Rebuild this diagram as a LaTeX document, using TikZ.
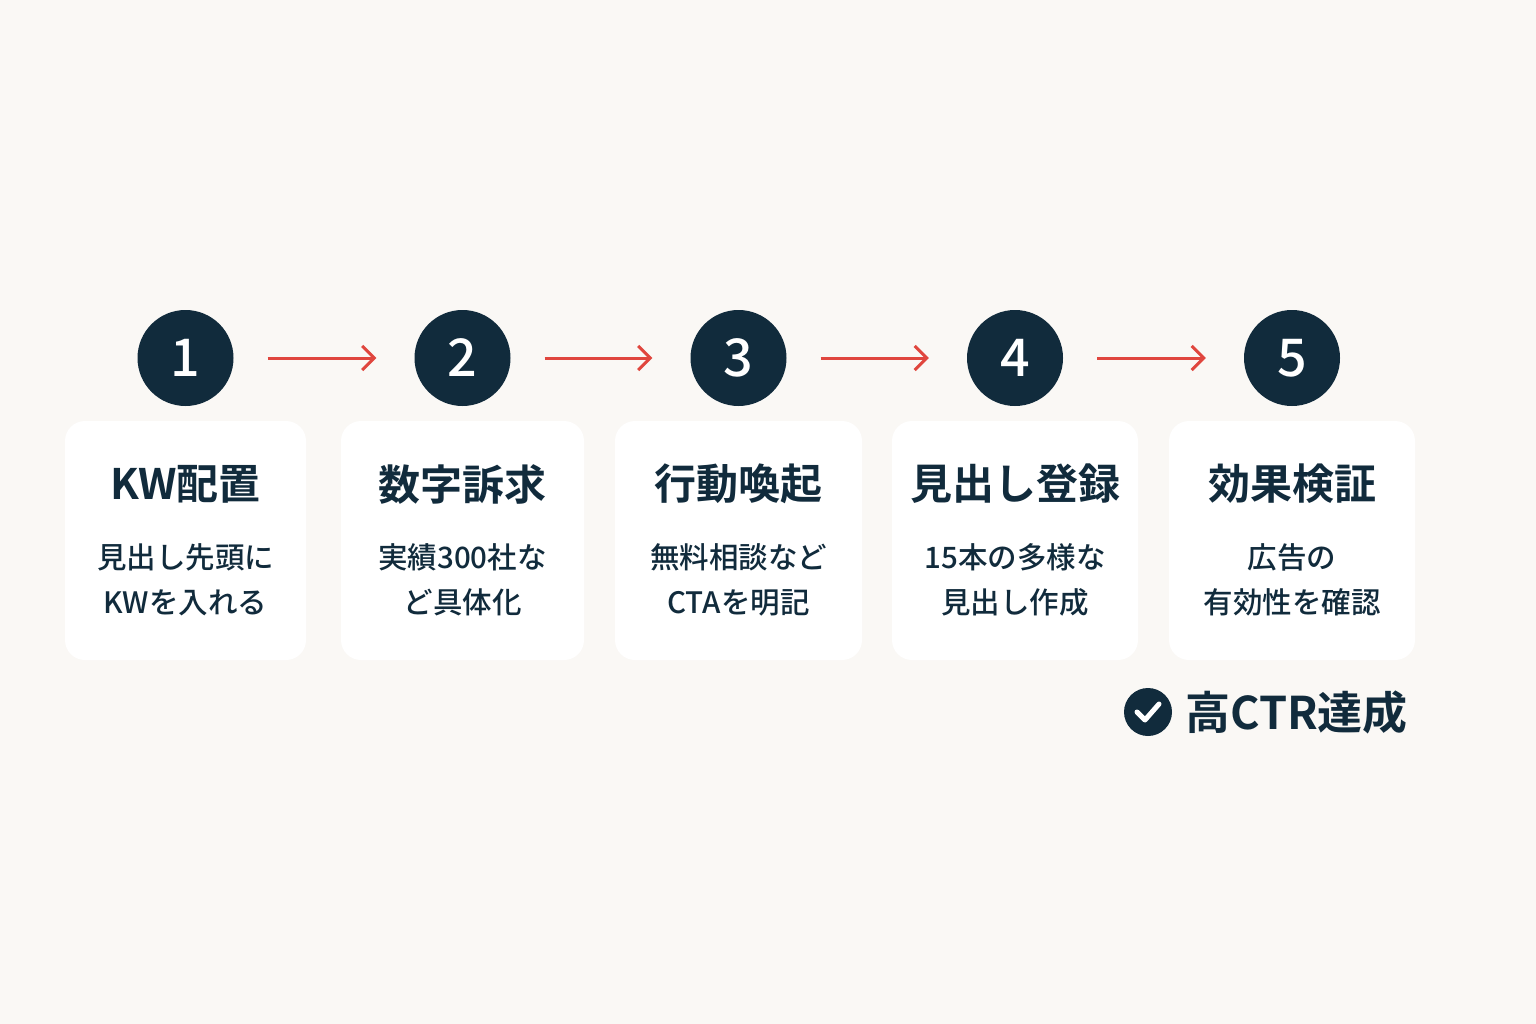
\documentclass[tikz,border=0pt]{standalone}
\usepackage{fontspec}
\setmainfont{Noto Sans CJK JP}[UprightFont=* Medium,BoldFont=* Bold]
\usetikzlibrary{arrows.meta}
\definecolor{bg}{HTML}{FAF8F5}
\definecolor{navy}{HTML}{112B3C}
\definecolor{redarr}{HTML}{E0463E}
\tikzset{
 num/.style={circle,fill=navy,minimum size=96pt,inner sep=0pt,text=white,font=\fontsize{52}{52}\selectfont},
 card/.style={fill=white,rounded corners=20pt,minimum width=#1,minimum height=239pt,inner sep=0pt},
 ttl/.style={text=navy,font=\fontsize{42}{42}\selectfont\bfseries},
 body/.style={text=navy,align=center,font=\fontsize{29.5}{45}\selectfont},
 arr/.style={draw=redarr,line width=3pt,-{Straight Barb[length=12pt,width=24pt,line width=3pt]}}
}
\begin{document}
\begin{tikzpicture}[x=1pt,y=-1pt]
\fill[bg] (0,0) rectangle (1536,1024);
\useasboundingbox (0,0) rectangle (1536,1024);
\foreach \i/\x/\w/\t/\a/\b in {1/185.5/241/KW配置/見出し先頭に/KWを入れる,2/462.5/243/数字訴求/実績300社な/ど具体化,3/738.5/247/行動喚起/無料相談など/CTAを明記,4/1015/246/見出し登録/15本の多様な/見出し作成,5/1292/246/効果検証/広告の/有効性を確認}{
 \node[card=\w pt] (c\i) at (\x,540.5) {};
 \node[num] (n\i) at (\x,358) {\i};
 \node[ttl] (t\i) at (\x,484) {\t};
 \node[body] (b\i) at (\x,580) {\a\\\b};
}
\foreach \i/\j in {1/2,2/3,3/4,4/5}{
 \draw[arr] ([xshift=34pt]n\i.east) -- ([xshift=-38pt]n\j.west);
}
\node[circle,fill=navy,minimum size=48pt,inner sep=0pt] (ck) at (1148,712) {};
\draw[white,line width=5pt,line cap=round,line join=round] ([shift={(-11,0)}]ck.center) -- ([shift={(-3,8)}]ck.center) -- ([shift={(11,-8)}]ck.center);
\node[text=navy,font=\fontsize{45}{45}\selectfont\bfseries,anchor=west,inner sep=0pt] (res) at (1185,712) {高CTR達成};
\end{tikzpicture}
\end{document}
